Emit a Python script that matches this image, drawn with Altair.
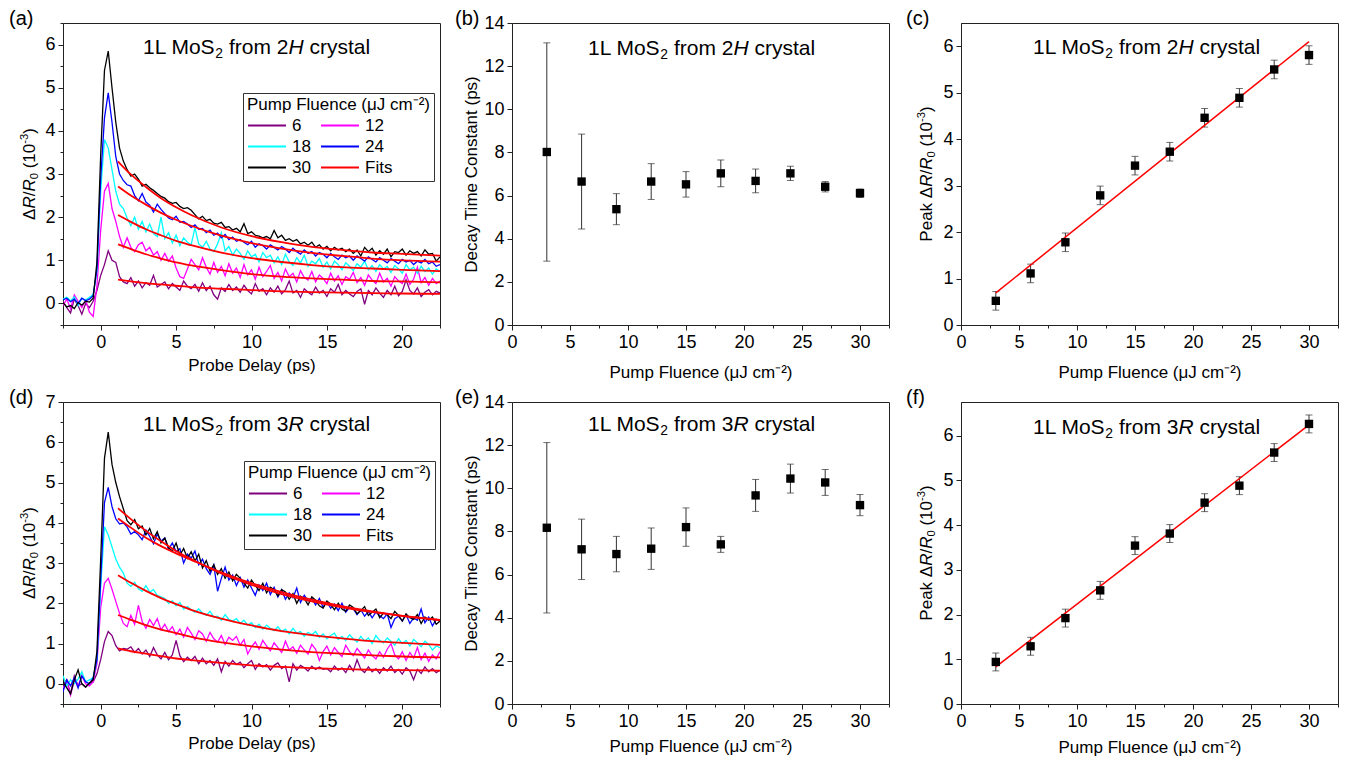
import altair as alt
import pandas as pd

FONT = "Liberation Sans"
INK = "#222222"
W, H = 377, 302

# ---------------- data ----------------
delay = [round(-2.5 + 0.25 * i, 2) for i in range(101)]   # probe delay grid (ps)
series_names = ["6", "12", "18", "24", "30"]              # pump fluence (uJ cm^-2)
series_colors = ["#800080", "#FF00FF", "#00FFFF", "#0000FF", "#000000"]
fit_color = "#FF0000"

# panel (a): 1L MoS2 from 2H crystal, dR/R0 (1e-3)
a_6 = [0.05, -0.1, -0.22, 0.1, -0.05, -0.25, 0.0, -0.1, 0.05, 0.3,
       0.65, 0.9, 1.22, 1.0, 0.95, 0.62, 0.5,
       0.46, 0.6, 0.4, 0.52, 0.36, 0.48, 0.42, 0.65, 0.38, 0.44,
       0.5, 0.34, 0.46, 0.38, 0.3, 0.52, 0.4, 0.34, 0.44, 0.28,
       0.48, 0.3, 0.4, 0.2, 0.1, 0.36, 0.28, 0.44, 0.3, 0.38,
       0.26, 0.42, 0.3, 0.22, 0.46, 0.28, 0.34, 0.2, 0.36, 0.26,
       0.4, 0.22, 0.32, 0.52, 0.24, 0.3, 0.14, 0.34, 0.26, 0.2,
       0.38, 0.24, 0.3, 0.16, 0.34, 0.26, 0.44, 0.2, 0.3, 0.22,
       0.16, 0.28, 0.34, -0.02, 0.3, 0.2, 0.36, 0.24, 0.14, 0.3,
       0.2, 0.4, 0.18, 0.28, 0.55, 0.3, 0.22, 0.36, 0.16, 0.26,
       0.32, 0.2, 0.28, 0.24]
a_12 = [-0.05, 0.1, -0.12, 0.2, 0.05, -0.1, 0.08, -0.2, -0.3, 0.4,
        1.7, 2.6, 2.78, 2.2, 1.9, 1.55, 1.3,
        1.52, 1.3, 1.2, 1.36, 1.42, 1.22, 1.3, 1.12, 1.2, 1.0,
        1.16, 0.98, 1.1, 0.82, 0.62, 0.58, 0.8, 1.02, 0.9, 0.78,
        1.06, 0.84, 0.68, 0.95, 0.72, 0.86, 0.64, 0.92, 0.7, 0.82,
        0.6, 0.9, 0.66, 0.78, 0.56, 0.84, 0.62, 0.74, 0.88, 0.58,
        0.72, 0.52, 0.8, 0.62, 0.7, 0.5, 0.76, 0.6, 0.54, 0.74,
        0.5, 0.66, 0.58, 0.46, 0.7, 0.52, 0.64, 0.44, 0.62, 0.56,
        0.72, 0.48, 0.6, 0.42, 0.66, 0.54, 0.46, 0.7, 0.5, 0.58,
        0.4, 0.62, 0.52, 0.46, 0.68, 0.44, 0.56, 0.84, 0.48, 0.6,
        0.42, 0.58, 0.46, 0.52]
a_18 = [0.1, 0.14, 0.06, 0.15, -0.05, 0.12, 0.08, 0.14, 0.2, 0.75,
        2.6, 3.8, 3.6, 3.1, 2.6, 2.3, 2.2,
        1.98, 1.8, 2.0, 1.72, 1.9, 1.66, 1.84, 1.62, 1.55, 2.0,
        1.5, 1.64, 1.4, 1.58, 1.34, 1.52, 1.42, 1.36, 1.75, 1.38,
        1.3, 1.44, 1.26, 1.2, 1.38, 1.64, 1.22, 1.32, 1.12, 1.26,
        1.16, 1.02, 1.22, 1.08, 1.14, 0.96, 1.18, 1.06, 1.12, 0.94,
        1.08, 0.9, 1.14, 0.96, 0.88, 1.06, 0.94, 1.12, 0.86, 0.98,
        0.92, 1.04, 0.84, 0.96, 0.8, 0.98, 0.9, 0.78, 0.94, 0.86,
        0.76, 0.92, 0.84, 0.98, 0.78, 0.88, 0.74, 0.9, 0.8, 0.86,
        0.72, 0.88, 0.8, 0.7, 0.9, 0.78, 0.84, 0.7, 0.86, 0.74,
        0.82, 0.68, 0.8, 0.74]
a_24 = [0.08, 0.12, 0.04, 0.1, 0.0, 0.12, 0.06, 0.1, 0.18, 0.8,
        2.9, 4.3, 4.88, 4.2, 3.4, 3.0, 2.85,
        2.75, 2.72, 2.5, 2.38, 2.55, 2.35, 2.28, 2.12, 2.3, 2.18,
        2.08, 1.98, 1.94, 2.02, 1.88, 1.9, 1.84, 1.76, 1.82, 1.72,
        1.74, 1.64, 1.7, 1.58, 1.63, 1.52, 1.6, 1.48, 1.54, 1.44,
        1.48, 1.42, 1.36, 1.44, 1.3, 1.38, 1.34, 1.26, 1.36, 1.3,
        1.24, 1.32, 1.26, 1.18, 1.28, 1.2, 1.14, 1.24, 1.16, 1.2,
        1.1, 1.18, 1.14, 1.06, 1.16, 1.08, 1.02, 1.12, 1.06, 1.1,
        1.0, 1.1, 1.04, 0.98, 1.08, 1.02, 0.96, 1.06, 1.0, 0.94,
        1.04, 0.98, 0.92, 1.02, 0.96, 1.0, 0.9, 0.98, 0.94, 1.02,
        0.92, 0.96, 0.86, 0.9]
a_30 = [0.02, -0.08, -0.05, -0.12, 0.02, -0.04, 0.05, 0.03, 0.12, 0.95,
        3.45, 5.4, 5.85, 5.0, 4.2, 3.6, 3.3,
        3.1, 2.95, 3.0, 2.88, 2.72, 2.76, 2.68, 2.62, 2.55, 2.48,
        2.44, 2.36, 2.32, 2.34, 2.25, 2.2, 2.22, 2.16, 2.06, 1.96,
        2.02, 1.92, 1.95, 1.86, 1.84, 1.88, 1.76, 1.78, 1.7, 1.74,
        1.66, 1.85, 1.62, 1.66, 1.58, 1.56, 1.52, 1.55, 1.5, 1.69,
        1.52, 1.58, 1.46, 1.5, 1.44, 1.48, 1.38, 1.42, 1.35, 1.42,
        1.3, 1.36, 1.26, 1.32, 1.22, 1.3, 1.24, 1.28, 1.2, 1.26,
        1.16, 1.24, 1.1, 1.3, 1.2, 1.28, 1.12, 1.22, 1.14, 1.26,
        1.08, 1.2, 1.18, 1.26, 1.12, 1.22, 1.16, 1.2, 1.1, 1.24,
        1.14, 1.16, 0.98, 1.08]

# panel (d): 1L MoS2 from 3R crystal
d_6 = [0.0, 0.1, -0.25, 0.2, -0.05, 0.0, -0.08, 0.02, 0.05, 0.25,
       0.6, 1.05, 1.3, 1.2, 0.95, 0.82, 0.88,
       0.86, 0.92, 0.78, 0.88, 0.74, 0.84, 0.68, 0.9, 0.72, 0.62,
       0.78, 0.6, 0.72, 1.08, 0.7, 0.55, 0.66, 0.58, 0.68, 0.5,
       0.64, 0.5, 0.58, 0.46, 0.62, 0.3, 0.56, 0.44, 0.58, 0.48,
       0.54, 0.4, 0.5, 0.58, 0.36, 0.5, 0.42, 0.48, 0.34, 0.46,
       0.52, 0.38, 0.44, 0.05, 0.5, 0.34, 0.46, 0.4, 0.32, 0.44,
       0.36, 0.42, 0.36, 0.38, 0.3, 0.44, 0.34, 0.4, 0.28, 0.46,
       0.32, 0.6, 0.36, 0.28, 0.42, 0.3, 0.38, 0.26, 0.4, 0.32,
       0.44, 0.28, 0.36, 0.24, 0.4, 0.32, 0.1, 0.36, 0.26, 0.42,
       0.3, 0.38, 0.28, 0.34]
d_12 = [-0.1, 0.05, -0.28, 0.1, -0.05, 0.2, 0.0, -0.05, 0.05, 0.5,
        1.9, 2.5, 2.62, 2.35, 2.05, 1.75, 1.5,
        1.42, 1.7, 1.48, 1.95, 1.55, 1.38, 1.6, 1.45, 1.62, 1.34,
        1.48, 1.3, 1.42, 1.22, 1.36, 1.16, 1.4, 1.26, 1.1, 1.32,
        1.24, 1.06, 1.28, 1.12, 1.04, 1.2, 0.98, 1.16, 1.08, 1.18,
        0.96, 1.1, 0.74, 0.92, 1.04, 0.86, 1.08, 0.94, 0.82, 1.02,
        0.9, 0.78, 1.06, 0.84, 0.92, 0.76, 0.96, 0.84, 0.74, 0.98,
        0.86, 0.58, 0.8, 0.94, 0.72, 0.9, 0.78, 0.68, 0.96, 0.8,
        0.7, 0.88, 0.76, 0.64, 0.84, 0.7, 0.62, 0.8, 0.66, 0.86,
        1.0, 0.72, 0.62, 0.8, 0.58, 0.78, 0.64, 0.9, 0.6, 0.76,
        0.56, 0.72, 0.62, 0.8]
d_18 = [0.2, -0.05, 0.1, 0.0, 0.12, 0.3, 0.05, 0.1, 0.15, 0.6,
        2.4, 3.9, 3.7, 3.4, 3.1, 2.9, 2.75,
        2.5, 2.42, 2.52, 2.36, 2.3, 2.44, 2.28, 2.34, 2.2, 2.16,
        2.12, 2.0, 2.06, 1.94, 2.02, 1.86, 1.92, 1.84, 1.78, 1.86,
        1.76, 1.7, 1.8, 1.66, 1.68, 1.58, 1.72, 1.6, 1.56, 1.62,
        1.5, 1.58, 1.46, 1.52, 1.4, 1.48, 1.36, 1.46, 1.38, 1.32,
        1.42, 1.3, 1.36, 1.24, 1.38, 1.26, 1.3, 1.18, 1.28, 1.22,
        1.3, 1.16, 1.24, 1.12, 1.2, 1.26, 1.1, 1.18, 1.08, 1.22,
        1.12, 1.04, 1.18, 1.06, 1.14, 1.0, 1.2, 1.08, 1.02, 1.14,
        1.06, 0.96, 1.12, 1.0, 1.08, 0.94, 1.1, 1.02, 0.92, 1.06,
        0.98, 0.84, 0.94, 0.9]
d_24 = [-0.2, 0.1, -0.05, 0.15, -0.1, 0.2, 0.05, 0.0, 0.15, 0.6,
        2.6, 4.5, 4.88, 4.4, 4.1, 3.97, 4.0,
        3.9, 3.72, 3.78, 3.7, 3.58, 3.82, 3.66, 3.48, 3.72, 3.55,
        3.62, 3.34, 3.5, 3.28, 3.36, 3.0, 3.22, 3.12, 3.3, 2.96,
        3.1, 2.86, 2.72, 2.95, 2.3, 2.62, 2.9, 2.58, 2.7, 2.44,
        2.64, 2.4, 2.58, 2.38, 2.2, 2.46, 2.32, 2.5, 2.22, 2.4,
        2.16, 2.34, 2.1, 2.26, 2.14, 2.38, 2.02, 2.2, 2.06, 2.12,
        1.96, 2.12, 1.9, 2.04, 1.88, 1.98, 1.82, 2.0, 1.78, 1.9,
        1.86, 1.72, 1.84, 1.68, 1.8, 1.64, 1.78, 1.7, 1.62, 1.74,
        1.4, 1.62, 1.68, 1.56, 1.72, 1.5, 1.64, 1.58, 1.86, 1.52,
        1.66, 1.44, 1.6, 1.56]
d_30 = [0.05, -0.1, -0.25, 0.1, 0.35, 0.0, -0.08, 0.02, 0.1, 0.8,
        3.1, 5.6, 6.25, 5.45, 5.0, 4.65, 4.35,
        4.05, 3.95, 4.08, 3.85, 3.92, 3.7, 3.86, 3.6, 3.78, 3.5,
        3.62, 3.38, 3.3, 3.5, 3.2, 3.36, 3.12, 3.28, 3.05, 3.22,
        2.88, 3.06, 2.8, 2.96, 2.72, 2.86, 2.62, 2.78, 2.56, 2.72,
        2.62, 2.5, 2.38, 2.58, 2.44, 2.32, 2.5, 2.26, 2.4, 2.34,
        2.18, 2.34, 2.28, 2.1, 2.24, 2.0, 2.18, 2.12, 1.96, 2.16,
        2.08, 1.94, 1.88, 2.06, 1.98, 1.84, 2.0, 1.86, 1.8, 1.96,
        1.9, 1.74, 1.82, 1.92, 1.7, 1.78, 1.86, 1.64, 1.76, 1.72,
        1.62, 1.8, 1.7, 1.56, 1.74, 1.64, 1.6, 1.72, 1.5, 1.66,
        1.58, 1.66, 1.48, 1.56]

# exponential fit curves (red), read at these delays
fit_delay = [1.15, 2, 3, 4, 5, 6, 8, 10, 12, 14, 16, 18, 20, 22.5]
a_fit_6 = [0.55, 0.51, 0.47, 0.44, 0.41, 0.38, 0.34, 0.31, 0.28, 0.26, 0.25, 0.24, 0.23, 0.22]
a_fit_12 = [1.37, 1.26, 1.14, 1.04, 0.95, 0.88, 0.77, 0.68, 0.62, 0.58, 0.55, 0.52, 0.51, 0.49]
a_fit_18 = [2.05, 1.89, 1.72, 1.58, 1.45, 1.35, 1.18, 1.05, 0.96, 0.89, 0.84, 0.81, 0.78, 0.75]
a_fit_24 = [2.71, 2.50, 2.29, 2.10, 1.94, 1.80, 1.57, 1.40, 1.27, 1.17, 1.10, 1.04, 1.00, 0.97]
a_fit_30 = [3.29, 2.99, 2.70, 2.44, 2.23, 2.05, 1.76, 1.56, 1.42, 1.31, 1.24, 1.18, 1.15, 1.11]
d_fit_6 = [0.88, 0.81, 0.75, 0.69, 0.63, 0.59, 0.52, 0.46, 0.42, 0.39, 0.37, 0.35, 0.34, 0.33]
d_fit_12 = [1.71, 1.59, 1.46, 1.35, 1.26, 1.17, 1.03, 0.93, 0.85, 0.79, 0.75, 0.71, 0.68, 0.66]
d_fit_18 = [2.70, 2.51, 2.31, 2.13, 1.98, 1.84, 1.62, 1.45, 1.31, 1.21, 1.13, 1.06, 1.02, 0.97]
d_fit_24 = [4.11, 3.88, 3.63, 3.42, 3.24, 3.08, 2.77, 2.50, 2.28, 2.09, 1.93, 1.80, 1.69, 1.58]
d_fit_30 = [4.36, 4.09, 3.80, 3.54, 3.30, 3.10, 2.74, 2.46, 2.23, 2.05, 1.90, 1.78, 1.69, 1.59]

# panels (b), (e): decay time constants (ps); (c), (f): peak dR/R0 (1e-3)
fluence = [3, 6, 9, 12, 15, 18, 21, 24, 27, 30]
b_tau = [8.02, 6.65, 5.37, 6.65, 6.52, 7.03, 6.68, 7.03, 6.41, 6.11]
b_err = [5.06, 2.2, 0.72, 0.83, 0.59, 0.62, 0.55, 0.33, 0.24, 0.2]
e_tau = [8.17, 7.17, 6.95, 7.2, 8.2, 7.4, 9.67, 10.45, 10.27, 9.22]
e_err = [3.95, 1.4, 0.82, 0.96, 0.89, 0.37, 0.74, 0.67, 0.6, 0.49]
c_peak = [0.52, 1.11, 1.78, 2.79, 3.43, 3.73, 4.46, 4.89, 5.5, 5.81]
c_err = [0.2, 0.2, 0.2, 0.2, 0.2, 0.2, 0.2, 0.2, 0.2, 0.2]
f_peak = [0.94, 1.29, 1.92, 2.54, 3.54, 3.81, 4.5, 4.88, 5.62, 6.26]
f_err = [0.2, 0.2, 0.2, 0.2, 0.2, 0.2, 0.2, 0.2, 0.2, 0.2]
lin_x = [3, 30]
c_lin = [0.69, 6.1]
f_lin = [0.83, 6.24]

for s in (a_6, a_12, a_18, a_24, a_30, d_6, d_12, d_18, d_24, d_30):
    assert len(s) == len(delay), len(s)

# ---------------- text helpers (Arial/Liberation metrics) ----------------
ARIAL = {" ": 278, "(": 333, ")": 333, "-": 333, "/": 278, "\u0394": 668,
         "C": 722, "D": 722, "H": 722, "L": 556, "M": 833, "P": 667, "R": 722, "S": 667,
         "a": 556, "c": 500, "e": 556, "f": 278, "k": 500, "l": 222, "m": 833,
         "o": 556, "r": 333, "s": 500, "t": 278, "y": 500}
for dgt in "0123456789":
    ARIAL[dgt] = 556
ONE = pd.DataFrame({"k": [0]})
SMALL = 0.66
TICK_FS = 18


def tw(s, fs):
    return sum(ARIAL.get(ch, 556) for ch in s) * fs / 1000.0


def runs_len(runs, size):
    return sum(tw(t, size * SMALL if st in ("sub", "sup") else size) for t, st in runs)


def rich(runs, x0, y0, size, vertical=False):
    marks, pos = [], 0.0
    for txt, style in runs:
        fs = size * SMALL if style in ("sub", "sup") else size
        shift = {"sub": 0.2 * size, "sup": -0.4 * size}.get(style, 0.0)
        core = txt.strip(" ")
        lead = len(txt) - len(txt.lstrip(" "))
        trail = len(txt) - len(txt.rstrip(" "))
        pos += tw(" " * lead, fs)
        if vertical:
            x, y = x0 + shift, y0 - pos
        else:
            x, y = x0 + pos, y0 + shift
        marks.append(
            alt.Chart(ONE).mark_text(
                text=core, align="left", baseline="alphabetic", font=FONT, fontSize=fs,
                fontStyle="italic" if style == "i" else "normal",
                angle=270 if vertical else 0, color="black",
            ).encode(x=alt.value(x), y=alt.value(y))
        )
        pos += tw(core, fs) + tw(" " * trail, fs)
    return marks


def vtitle(runs, x0, size=17):
    L = runs_len(runs, size)
    return rich(runs, x0, H / 2 + L / 2, size, vertical=True)


def tag(label, dx):
    return alt.Chart(ONE).mark_text(
        text=label, align="left", baseline="middle", font=FONT, fontSize=20, color="black"
    ).encode(x=alt.value(dx), y=alt.value(-4.5))


T2H = [("1L MoS", "n"), ("2", "sub"), (" from 2", "n"), ("H", "i"), (" crystal", "n")]
T3R = [("1L MoS", "n"), ("2", "sub"), (" from 3", "n"), ("R", "i"), (" crystal", "n")]
YT = [("\u0394", "n"), ("R", "i"), ("/", "n"), ("R", "i"), ("0", "sub"), (" (10", "n"), ("-3", "sup"), (")", "n")]
YT_PEAK = [("Peak \u0394", "n"), ("R", "i"), ("/", "n"), ("R", "i"), ("0", "sub"), (" (10", "n"), ("-3", "sup"), (")", "n")]
FLUENCE_TITLE = "Pump Fluence (\u03bcJ cm\u207b\u00b2)"


def make_axis(majors, minors, step, title=None, title_pad=6):
    test = f"abs(datum.value / {step} - round(datum.value / {step})) < 0.001"
    return alt.Axis(
        values=sorted(majors + minors), title=title, titlePadding=title_pad,
        labelExpr=f"({test}) ? format(datum.value, 'd') : ''",
        tickSize={"condition": {"test": test, "value": 5}, "value": 3},
        labelOverlap=False, labelFlush=False, grid=False,
        domainColor=INK, tickColor=INK, domainWidth=1, tickWidth=1,
        labelColor="black", labelFont=FONT, labelFontSize=TICK_FS, labelPadding=3,
        titleFont=FONT, titleFontSize=17, titleFontWeight="normal", titleColor="black",
    )


# ---------------- trace panels (a), (d) ----------------
# legend entries fill column by column: 6, 18, 30 | 12, 24, Fits
legend_domain = ["6", "18", "30", "12", "24", "Fits"]
legend_range = ["#800080", "#00FFFF", "#000000", "#FF00FF", "#0000FF", fit_color]


def trace_panel(traces, fits, ymax, ymaj, ymin, label, title_runs, tx, ty, lx, ly, xpad):
    rows = [{"delay": t, "value": v, "series": n}
            for n, tr in zip(series_names, traces) for t, v in zip(delay, tr)]
    frows = [{"delay": t, "value": v, "series": "Fits", "curve": n}
             for n, fv in zip(series_names, fits) for t, v in zip(fit_delay, fv)]
    x = alt.X("delay:Q", scale=alt.Scale(domain=[-2.5, 22.5], nice=False, zero=False),
              axis=make_axis([0, 5, 10, 15, 20], [-2.5, 2.5, 7.5, 12.5, 17.5, 22.5], 5,
                             "Probe Delay (ps)", xpad))
    y = alt.Y("value:Q", scale=alt.Scale(domain=[-0.5, ymax], nice=False, zero=False),
              axis=make_axis(ymaj, ymin, 1, None))
    color = alt.Color(
        "series:N", sort=legend_domain,
        scale=alt.Scale(domain=legend_domain, range=legend_range),
        legend=alt.Legend(
            title=FLUENCE_TITLE, orient="none", legendX=lx, legendY=ly, columns=2,
            symbolType="stroke", symbolSize=1444, symbolStrokeWidth=2, clipHeight=19,
            rowPadding=2, columnPadding=9, labelOffset=5, padding=4, titlePadding=2,
            labelFont=FONT, labelFontSize=17, labelColor="black",
            titleFont=FONT, titleFontSize=17, titleFontWeight="normal", titleColor="black",
            titleLimit=400, strokeColor="#333333", fillColor="white",
        ),
    )
    data_lines = alt.Chart(pd.DataFrame(rows)).mark_line(strokeWidth=1.3, clip=True).encode(
        x=x, y=y, color=color)
    fit_lines = alt.Chart(pd.DataFrame(frows)).mark_line(
        strokeWidth=1.8, clip=True, interpolate="monotone").encode(
        x=x, y=y, color=color, detail="curve:N")
    layers = [data_lines, fit_lines] + rich(title_runs, tx, ty, 21) + vtitle(YT, -28) + [tag(label, -54)]
    return alt.layer(*layers).properties(width=W, height=H)


# ---------------- scatter panels (b), (c), (e), (f) ----------------
def scatter_panel(vals, errs, ydom, ymaj, ymin, ystep, label, title_runs, tx, ty, xpad,
                  ytitle=None, manual_ytitle=None, lin=None, tag_dx=-57):
    df = pd.DataFrame({"fluence": fluence, "val": vals,
                       "lo": [v - e for v, e in zip(vals, errs)],
                       "hi": [v + e for v, e in zip(vals, errs)]})
    x = alt.X("fluence:Q", scale=alt.Scale(domain=[0, 32.5], nice=False),
              axis=make_axis([0, 5, 10, 15, 20, 25, 30],
                             [2.5, 7.5, 12.5, 17.5, 22.5, 27.5, 32.5], 5, FLUENCE_TITLE, xpad))
    y = alt.Y("val:Q", scale=alt.Scale(domain=ydom, nice=False, zero=False),
              axis=make_axis(ymaj, ymin, ystep, ytitle, 3))
    base = alt.Chart(df)
    bars = base.mark_rule(color="#333333", strokeWidth=1).encode(x=x, y=alt.Y("lo:Q"), y2="hi:Q")
    cap_lo = base.mark_tick(color="#333333", thickness=1, size=7, orient="horizontal").encode(x=x, y=alt.Y("lo:Q"))
    cap_hi = base.mark_tick(color="#333333", thickness=1, size=7, orient="horizontal").encode(x=x, y=alt.Y("hi:Q"))
    pts = base.mark_square(size=70, color="black", opacity=1).encode(x=x, y=y)
    layers = [bars, cap_lo, cap_hi]
    if lin is not None:
        ldf = pd.DataFrame({"fluence": lin_x, "val": lin})
        layers.append(alt.Chart(ldf).mark_line(color=fit_color, strokeWidth=1.5).encode(x=x, y=y))
    layers.append(pts)
    layers += rich(title_runs, tx, ty, 21)
    if manual_ytitle is not None:
        layers += vtitle(manual_ytitle, -29)
    layers.append(tag(label, tag_dx))
    return alt.layer(*layers).properties(width=W, height=H)


tau_major = [0, 2, 4, 6, 8, 10, 12, 14]
tau_minor = [1, 3, 5, 7, 9, 11, 13]
pk_major = [0, 1, 2, 3, 4, 5, 6]
pk_minor = [0.5, 1.5, 2.5, 3.5, 4.5, 5.5, 6.5]

pa = trace_panel([a_6, a_12, a_18, a_24, a_30], [a_fit_6, a_fit_12, a_fit_18, a_fit_24, a_fit_30],
                 6.5, [0, 1, 2, 3, 4, 5, 6], [-0.5, 0.5, 1.5, 2.5, 3.5, 4.5, 5.5, 6.5],
                 "(a)", T2H, 80, 31, 180, 70, 6)
pdd = trace_panel([d_6, d_12, d_18, d_24, d_30], [d_fit_6, d_fit_12, d_fit_18, d_fit_24, d_fit_30],
                  7, [0, 1, 2, 3, 4, 5, 6, 7], [-0.5, 0.5, 1.5, 2.5, 3.5, 4.5, 5.5, 6.5],
                  "(d)", T3R, 80, 28.5, 181, 59, 5)
pb = scatter_panel(b_tau, b_err, [0, 14], tau_major, tau_minor, 2, "(b)", T2H, 76, 31.5, 13,
                   ytitle="Decay Time Constant (ps)")
pe = scatter_panel(e_tau, e_err, [0, 14], tau_major, tau_minor, 2, "(e)", T3R, 76, 28.5, 8,
                   ytitle="Decay Time Constant (ps)")
pc = scatter_panel(c_peak, c_err, [0, 6.5], pk_major, pk_minor, 1, "(c)", T2H, 72, 30.6, 13,
                   manual_ytitle=YT_PEAK, lin=c_lin, tag_dx=-55)
pf = scatter_panel(f_peak, f_err, [0, 6.75], pk_major, pk_minor, 1, "(f)", T3R, 72, 31.6, 9,
                   manual_ytitle=YT_PEAK, lin=f_lin, tag_dx=-55)

chart = (
    alt.concat(pa, pb, pc, pdd, pe, pf, columns=3,
               spacing={"row": 77, "column": 72}, bounds="flush")
    .resolve_scale(color="independent")
    .resolve_legend(color="independent")
    .properties(padding=0)
    .configure(font=FONT)
    .configure_view(stroke=INK, strokeWidth=1)
)

chart.save("out.html", embed_options={"renderer": "svg", "actions": False})
